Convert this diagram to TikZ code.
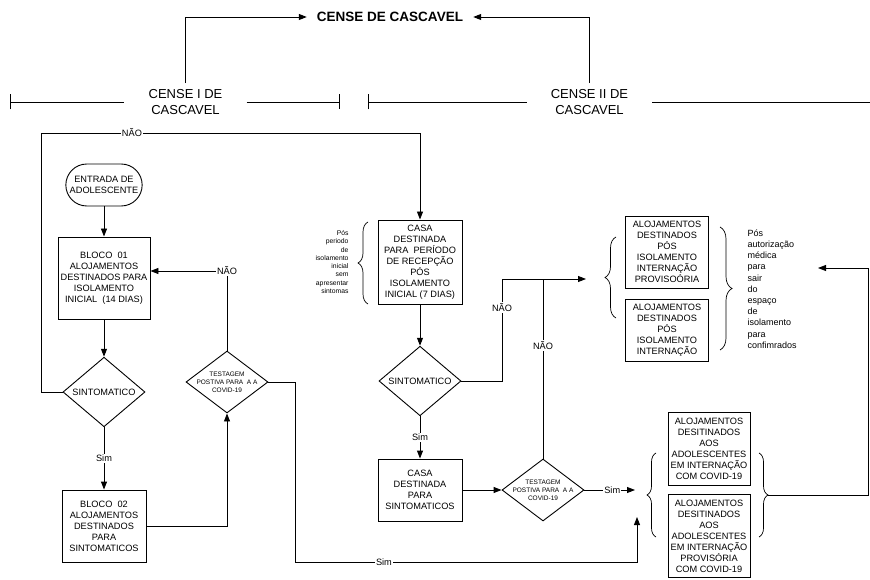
\documentclass[tikz,border=0pt]{standalone}
\usepackage{fontspec}
\setmainfont{Liberation Sans}
\usetikzlibrary{arrows.meta,shapes.geometric,shapes.misc,decorations.pathreplacing,positioning}

\tikzset{
  box/.style={draw, line width=0.9pt, align=center, inner sep=1pt, font=\fontsize{9.2}{11}\selectfont},
  decision/.style={draw, diamond, line width=0.9pt, inner sep=0pt, minimum width=82pt, minimum height=62pt, font=\fontsize{9.2}{11}\selectfont},
  terminal/.style={draw, rounded rectangle, line width=0.9pt, align=center, minimum width=83pt, minimum height=42pt, font=\fontsize{9.2}{11}\selectfont},
  arr/.style={line width=0.9pt, -{Triangle[length=8pt,width=6pt]}},
  bar/.style={line width=0.9pt},
  lbl/.style={fill=white, inner sep=1pt, font=\fontsize{9.2}{11}\selectfont},
  brc/.style={decorate, line width=0.7pt},
  header/.style={align=center, font=\fontsize{13}{16}\selectfont, inner xsep=24pt, inner ysep=6pt},
  testtext/.style={font=\fontsize{6.5}{8}\selectfont, align=center}
}

\begin{document}
\begin{tikzpicture}[x=1pt,y=-1pt]
\useasboundingbox (0,0) rectangle (870,580);

\node[font=\bfseries\fontsize{13.5}{16}\selectfont, inner xsep=10pt] (title) at (390,17) {CENSE DE CASCAVEL};
\node[header] (cense1) at (185.5,102) {CENSE I DE\\CASCAVEL};
\node[header] (cense2) at (589.5,102) {CENSE II DE\\CASCAVEL};
\coordinate (hl1) at (10,102);
\coordinate (hl2) at (340,102);
\coordinate (hl3) at (368,102);
\coordinate (hl4) at (870,102);

\node[terminal] (entrada) at (104,185) {ENTRADA DE\\ADOLESCENTE};
\node[box, minimum width=92pt, minimum height=82pt] (b1) at (104,278) {BLOCO\ \ 01\\ALOJAMENTOS\\DESTINADOS PARA\\ISOLAMENTO\\INICIAL\ \ (14 DIAS)};
\node[decision] (d1) at (104,392) {SINTOMATICO};
\node[box, minimum width=84pt, minimum height=72pt] (b2) at (104,526) {BLOCO\ \ 02\\ALOJAMENTOS\\DESTINADOS\\PARA\\SINTOMATICOS};
\node[decision, label={[testtext]center:TESTAGEM\\POSTIVA PARA\ \ A A\\COVID-19}] (t1) at (227,382) {};

\node[box, minimum width=84pt, minimum height=84pt] (casa) at (420,262) {CASA\\DESTINADA\\PARA\ \ PERÍODO\\DE RECEPÇÃO\\PÓS\\ISOLAMENTO\\INICIAL (7 DIAS)};
\node[anchor=east, align=right, font=\fontsize{6.8}{8.3}\selectfont] (note1) at (352,262) {Pós\\periodo\\de\\isolamento\\inicial\\sem\\apresentar\\sintomas};
\node[decision] (d2) at (420,381) {SINTOMATICO};
\node[box, minimum width=84pt, minimum height=62pt] (c) at (420,490) {CASA\\DESTINADA\\PARA\\SINTOMATICOS};
\node[decision, label={[testtext]center:TESTAGEM\\POSTIVA PARA\ \ A A\\COVID-19}] (t2) at (543,490) {};

\node[box, minimum width=83pt, minimum height=72pt] (a1) at (667,252) {ALOJAMENTOS\\DESTINADOS\\PÓS\\ISOLAMENTO\\INTERNAÇÃO\\PROVISOÓRIA};
\node[box, minimum width=83pt, minimum height=62pt] (a2) at (667,330) {ALOJAMENTOS\\DESTINADOS\\PÓS\\ISOLAMENTO\\INTERNAÇÃO};
\node[anchor=west, align=left, font=\fontsize{9}{11.2}\selectfont] (note2) at (744,289) {Pós\\autorização\\médica\\para\\sair\\do\\espaço\\de\\isolamento\\para\\confimrados};
\node[box, minimum width=82pt, minimum height=73pt] (a3) at (709,449) {ALOJAMENTOS\\DESITINADOS\\AOS\\ADOLESCENTES\\EM INTERNAÇÃO\\COM COVID-19};
\node[box, minimum width=82pt, minimum height=83pt] (a4) at (709,536) {ALOJAMENTOS\\DESITINADOS\\AOS\\ADOLESCENTES\\EM INTERNAÇÃO\\PROVISÓRIA\\COM COVID-19};

\coordinate (k0) at (41,133);
\coordinate (k1) at (295,562);
\coordinate (k2) at (502,279);
\coordinate (k3) at (868,268);
\coordinate (ar1) at (586,279);
\coordinate (ar2) at (818,268);
\coordinate (ar3) at (635,490);
\coordinate (ar4) at (637,517);
\coordinate (brD) at (768,495);

\draw[brc, decoration={brace,amplitude=10pt}] (368,304) -- (368,222);
\draw[brc, decoration={brace,amplitude=11pt}] (616,318) -- (616,237);
\draw[brc, decoration={brace,amplitude=12pt}] (720,227) -- (720,350);
\draw[brc, decoration={brace,amplitude=9pt}] (656,537) -- (656,453);
\draw[brc, decoration={brace,amplitude=9pt}] (759,453) -- (759,537);

\draw[arr] (cense1.north) |- (title.west);
\draw[arr] (cense2.north) |- (title.east);
\draw[bar, {Bar[width=15pt]}-] (hl1) -- (cense1.west);
\draw[bar, -{Bar[width=15pt]}] (cense1.east) -- (hl2);
\draw[bar, {Bar[width=15pt]}-] (hl3) -- (cense2.west);
\draw[bar] (cense2.east) -- (hl4);

\draw[arr] (entrada.south) -- (b1.north);
\draw[arr] (b1.south) -- (d1.north);
\draw[arr] (d1.south) -- node[lbl]{Sim} (b2.north);
\draw[arr] (d1.west) -| (k0) -| node[lbl,pos=0.12]{NÃO} (casa.north);
\draw[arr] (b2.east) -| (t1.south);
\draw[arr] (t1.north) |- node[lbl,pos=0.5]{NÃO} ([yshift=7pt]b1.east);
\draw[arr] (t1.east) -| (k1) -| node[lbl,pos=0.13]{Sim} (ar4);

\draw[arr] (casa.south) -- (d2.north);
\draw[arr] (d2.south) -- node[lbl]{Sim} (c.north);
\draw[arr] (d2.east) -| node[lbl,pos=0.86]{NÃO} (k2) -- (ar1);
\draw[arr] (c.east) -- (t2.west);
\draw[line width=0.9pt] (t2.north) -- node[lbl,pos=0.63]{NÃO} (t2.north |- k2);
\draw[arr] (t2.east) -- node[lbl,pos=0.55]{Sim} (ar3);
\draw[arr] (brD) -| (k3) -- (ar2);
\end{tikzpicture}
\end{document}
